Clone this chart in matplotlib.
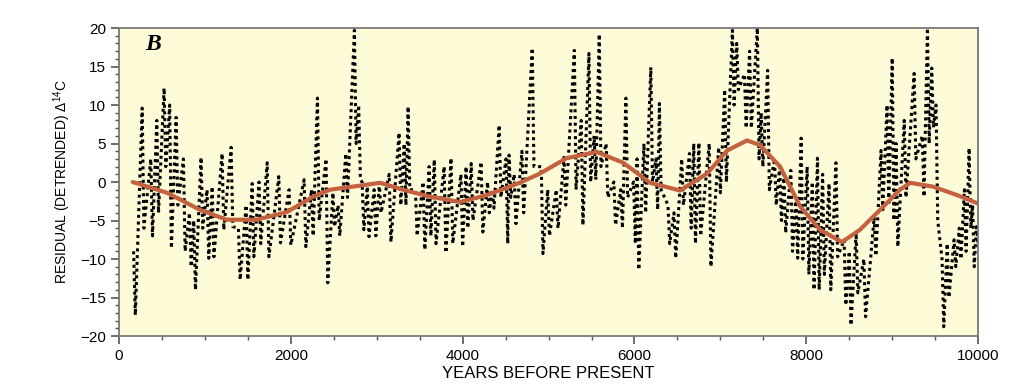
import numpy as np
import matplotlib
matplotlib.use("Agg")
import matplotlib.pyplot as plt
from matplotlib.ticker import MultipleLocator

plt.rcParams['font.family'] = ['Liberation Sans Narrow', 'Liberation Sans', 'DejaVu Sans']
plt.rcParams['mathtext.default'] = 'regular'

years = [170, 190, 270, 290, 370, 390, 440, 460, 525, 545, 590, 610, 665, 685, 750, 770, 820, 840, 870, 890,
         955, 975, 1025, 1045, 1085, 1105, 1200, 1220, 1305, 1325, 1390, 1410, 1480, 1500, 1550, 1570, 1630, 1650, 1725, 1745,
         1860, 1880, 1980, 2000, 2155, 2175, 2240, 2260, 2310, 2330, 2410, 2430, 2490, 2510, 2550, 2570, 2640, 2660, 2740, 2760,
         2790, 2810, 2830, 2850, 2890, 2910, 2970, 2990, 3030, 3050, 3145, 3165, 3260, 3280, 3320, 3340, 3365, 3385, 3450, 3470,
         3540, 3560, 3610, 3630, 3670, 3690, 3785, 3805, 3865, 3885, 3980, 4000, 4040, 4060, 4100, 4120, 4215, 4235, 4290, 4310,
         4345, 4365, 4425, 4445, 4505, 4525, 4540, 4560, 4600, 4620, 4690, 4710, 4810, 4830, 4915, 4935, 4990, 5010, 5090, 5110,
         5180, 5200, 5300, 5320, 5380, 5400, 5470, 5490, 5530, 5550, 5590, 5610, 5670, 5690, 5760, 5780, 5840, 5860, 5900, 5920,
         5990, 6010, 6030, 6050, 6110, 6130, 6190, 6210, 6250, 6270, 6290, 6310, 6390, 6410, 6460, 6480, 6550, 6570, 6640, 6660,
         6690, 6710, 6750, 6770, 6870, 6890, 6980, 7000, 7050, 7070, 7140, 7160, 7190, 7210, 7280, 7300, 7340, 7360, 7430, 7450,
         7475, 7495, 7550, 7570, 7630, 7650, 7690, 7710, 7740, 7760, 7820, 7840, 7880, 7900, 7940, 7960, 8010, 8030, 8070, 8090,
         8130, 8150, 8190, 8210, 8265, 8285, 8345, 8365, 8440, 8460, 8500, 8520, 8580, 8600, 8670, 8690, 8790, 8810, 8870, 8890,
         8940, 8960, 9000, 9020, 9045, 9065, 9140, 9160, 9255, 9275, 9350, 9370, 9410, 9430, 9460, 9480, 9510, 9530, 9580, 9600,
         9640, 9660, 9720, 9740, 9780, 9800, 9840, 9860, 9895, 9915, 9935, 9955, 9980, 10000]
residual = [-9, -17.3, 9.6, -6, 3, -7, 8, -4, 12.2, 2, 10, -8.6, 8.4, -3, 3, -9, -4, -11, -5, -14,
            3.2, -6, -1, -9.9, -0.6, -9.7, 3.7, -6.2, 4.5, -5.8, -6, -12.7, -3, -12.7, -0.2, -9.7, 0, -8, 2.5, -9.7,
            0.7, -7.9, -1, -8.2, 0.3, -8.4, -1, -7, 10.9, -5, 3, -13.1, -1.4, -5.8, -3, -7, 3.7, -2, 19.7, 5,
            10, 0.3, 0, -6.2, -0.6, -7.1, -1, -7, -0.1, -4, 1, -7.8, 6.4, -3, 5, -3, 9.8, -1, -1, -7,
            0, -8.8, 2, -7, 2.9, -8, 2, -9.2, 3.1, -8, 1, -8.4, 2, -6, 2.4, -5, 2.6, -6.5, 0, -4,
            -1, -3.4, 7.4, -2, 3, -8, 3.5, -2, 1, -5.4, 4, -4, 17.4, 2, 2, -9.3, -1, -7, -1, -6,
            3.2, -3, 17.1, -1, 8, -5.6, 16.7, 0, 6, 0.3, 19.2, 2, 5, -2, 0, -5.6, -1, -6, 10.9, -2,
            0, -8, 3, -11.4, 5, -4, 14.9, 0, 3, -3.6, 10.2, -1, -3, -8, -4, -9.9, 3, -3, 3.7, -6,
            5, -8, 5.1, -7, 5, -11, 4.5, -1.4, 12, 0, 19.7, 10, 18, 12, 14, 7, 17, 7, 20, 3,
            9, 2, 14.5, -1, 3, -3, 2, -5, 1, -6.6, 1.5, -9, -2, -9.9, 5.7, -10, 2, -12, 0, -14,
            3.1, -14, 1, -12, -0.2, -14, 2.5, -9.7, -7.5, -16, -9, -18.6, -6.6, -14.4, -10, -17.5, -4.6, -9.6, 4.1, -3.6,
            10, -3, 16.1, -5, 5, -8.4, 8, -2, 14.1, 3, 6, -1.9, 20, 5, 14.8, 7.1, 10, -5, -10, -18.8,
            -8, -15, -7.5, -11, -6, -10, -1, -9, 4.4, -6, -3, -11, -5.8, -8]

# smoothed curve
smooth_years = [160, 560, 940, 1255, 1600, 1955, 2260, 2455, 2720, 3040, 3305, 3620,
                3970, 4280, 4665, 4900, 5210, 5560, 5870, 6180, 6530, 6845, 7080,
                7310, 7460, 7695, 7930, 8160, 8415, 8625, 8860, 9090, 9210, 9475,
                9755, 10000]
smooth_vals = [0.0, -1.4, -3.6, -4.9, -4.9, -3.9, -1.9, -1.0, -0.6, -0.1, -1.0, -1.9,
               -2.6, -1.7, -0.1, 1.1, 3.1, 3.9, 2.5, -0.1, -1.1, 1.1, 4.1,
               5.4, 4.8, 2.0, -3.2, -6.2, -7.8, -6.2, -3.6, -1.0, -0.1, -0.6,
               -1.7, -2.8]

fig = plt.figure(figsize=(10.24, 3.84), dpi=100)
ax = fig.add_axes([0.1162, 0.125, 0.839, 0.802])
ax.set_facecolor('#fefbd8')

ax.plot(years, residual, color='black', lw=2.2, linestyle=(0, (1, 1.2)))
ax.plot(smooth_years, smooth_vals, color='#c4623f', lw=3, solid_capstyle='round',
        solid_joinstyle='round')

ax.set_xlim(0, 10000)
ax.set_ylim(-20, 20)
ax.xaxis.set_major_locator(MultipleLocator(2000))
ax.xaxis.set_minor_locator(MultipleLocator(500))
ax.yaxis.set_major_locator(MultipleLocator(5))
ax.yaxis.set_minor_locator(MultipleLocator(1))
ax.tick_params(which='major', length=6, width=1.2, color='#555555', labelsize=11)
ax.tick_params(which='minor', length=3, width=1, color='#555555')
for s in ax.spines.values():
    s.set_color('#777777')
    s.set_linewidth(1.3)

ax.set_xlabel('YEARS BEFORE PRESENT', fontsize=12, labelpad=2)
ax.set_ylabel('RESIDUAL (DETRENDED) \u0394$^{14}$C', fontsize=10, labelpad=5)
ax.text(0.03, 0.945, 'B', transform=ax.transAxes, fontsize=17, fontweight='bold',
        fontstyle='italic', family='Liberation Serif', va='center', ha='left')

plt.savefig('out.png', dpi=100)
